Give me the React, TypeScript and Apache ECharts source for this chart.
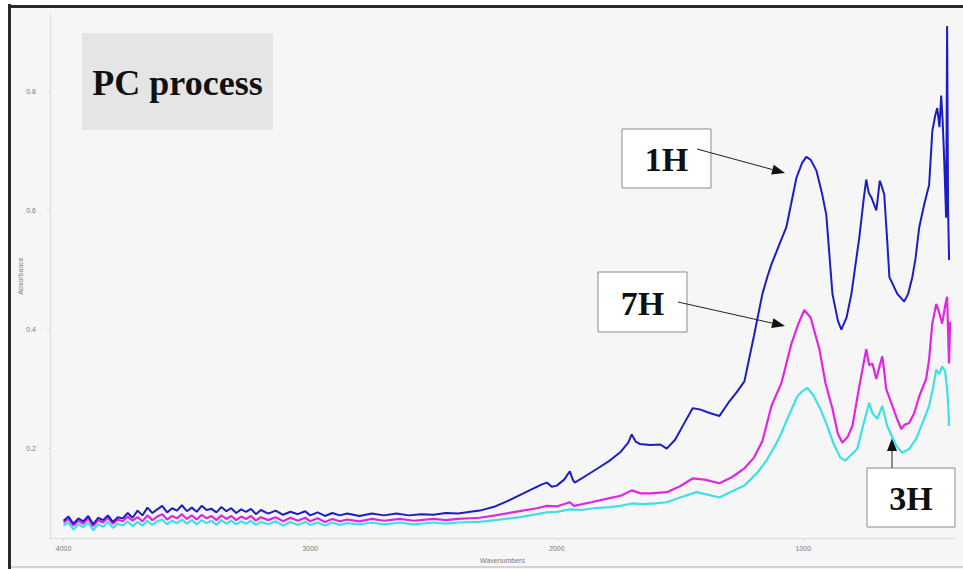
import React, { useEffect, useRef } from "react";
import * as echarts from "echarts";

const xTicks = [4000, 3000, 2000, 1000];
const yTicks = [0.2, 0.4, 0.6, 0.8];

const blue1H: [number, number][] = [
  [4000,0.079],[3980,0.086],[3960,0.074],[3940,0.083],[3920,0.078],[3900,0.087],[3880,0.073],[3860,0.084],[3840,0.08],[3820,0.088],[3800,0.077],[3780,0.085],[3760,0.083],[3740,0.092],[3720,0.084],[3700,0.096],[3680,0.088],[3660,0.101],[3640,0.092],[3620,0.098],[3600,0.104],[3580,0.093],[3560,0.1],[3540,0.096],[3520,0.105],[3500,0.095],[3480,0.101],[3460,0.094],[3440,0.104],[3420,0.097],[3400,0.099],[3380,0.093],[3360,0.102],[3340,0.095],[3320,0.1],[3300,0.092],[3280,0.098],[3260,0.094],[3240,0.099],[3220,0.09],[3200,0.097],[3170,0.091],[3140,0.096],[3110,0.089],[3080,0.094],[3050,0.09],[3020,0.095],[3000,0.088],[2970,0.093],[2940,0.087],[2910,0.092],[2880,0.088],[2850,0.091],[2800,0.087],[2750,0.091],[2700,0.088],[2650,0.091],[2600,0.088],[2550,0.09],[2500,0.089],[2450,0.092],[2400,0.091],[2350,0.094],[2312,0.096],[2250,0.103],[2200,0.112],[2150,0.122],[2100,0.132],[2060,0.14],[2040,0.143],[2020,0.136],[2000,0.138],[1970,0.148],[1947,0.162],[1935,0.148],[1927,0.143],[1880,0.155],[1830,0.168],[1785,0.18],[1740,0.195],[1710,0.21],[1696,0.224],[1680,0.212],[1664,0.208],[1620,0.206],[1580,0.207],[1554,0.2],[1520,0.215],[1480,0.245],[1449,0.268],[1420,0.266],[1380,0.26],[1340,0.255],[1299,0.28],[1270,0.295],[1239,0.313],[1200,0.39],[1166,0.46],[1145,0.49],[1129,0.51],[1100,0.54],[1069,0.572],[1050,0.61],[1028,0.655],[1005,0.68],[988,0.69],[970,0.685],[947,0.667],[925,0.63],[907,0.593],[882,0.46],[860,0.415],[846,0.4],[825,0.42],[805,0.46],[773,0.555],[755,0.62],[745,0.652],[735,0.63],[724,0.622],[704,0.6],[690,0.65],[684,0.643],[672,0.627],[660,0.55],[651,0.488],[619,0.46],[591,0.447],[575,0.46],[558,0.488],[545,0.52],[530,0.572],[510,0.61],[490,0.643],[477,0.733],[465,0.76],[457,0.772],[448,0.74],[441,0.793],[435,0.75],[429,0.688],[421,0.588],[417,0.91],[413,0.6],[409,0.517]
];

const magenta7H: [number, number][] = [
  [4000,0.076],[3980,0.082],[3960,0.071],[3940,0.079],[3920,0.074],[3900,0.083],[3880,0.07],[3860,0.08],[3840,0.076],[3820,0.084],[3800,0.074],[3780,0.081],[3760,0.078],[3740,0.086],[3720,0.079],[3700,0.085],[3680,0.078],[3660,0.088],[3640,0.08],[3620,0.086],[3600,0.09],[3580,0.081],[3560,0.087],[3540,0.083],[3520,0.09],[3500,0.082],[3480,0.088],[3460,0.081],[3440,0.089],[3420,0.083],[3400,0.087],[3380,0.08],[3360,0.088],[3340,0.082],[3320,0.087],[3300,0.08],[3280,0.086],[3260,0.082],[3240,0.087],[3220,0.079],[3200,0.085],[3170,0.08],[3140,0.085],[3110,0.078],[3080,0.084],[3050,0.079],[3020,0.084],[3000,0.078],[2970,0.083],[2940,0.077],[2910,0.082],[2880,0.078],[2850,0.081],[2800,0.078],[2750,0.082],[2700,0.079],[2636,0.082],[2580,0.079],[2500,0.082],[2450,0.08],[2400,0.082],[2312,0.084],[2250,0.088],[2150,0.095],[2080,0.1],[2040,0.104],[2000,0.103],[1947,0.11],[1930,0.104],[1860,0.11],[1785,0.117],[1740,0.121],[1696,0.13],[1660,0.125],[1620,0.125],[1554,0.127],[1500,0.137],[1449,0.15],[1400,0.148],[1340,0.142],[1290,0.152],[1239,0.167],[1200,0.185],[1166,0.213],[1129,0.272],[1089,0.31],[1048,0.377],[1020,0.41],[996,0.433],[970,0.42],[935,0.367],[910,0.31],[882,0.267],[860,0.225],[842,0.21],[820,0.22],[801,0.238],[775,0.3],[745,0.367],[733,0.34],[720,0.343],[704,0.317],[690,0.34],[680,0.355],[672,0.33],[664,0.3],[639,0.272],[620,0.25],[603,0.233],[590,0.24],[571,0.243],[550,0.26],[530,0.288],[502,0.317],[490,0.35],[477,0.41],[461,0.443],[450,0.43],[437,0.41],[425,0.44],[417,0.455],[412,0.38],[409,0.343],[405,0.413]
];

const cyan3H: [number, number][] = [
  [4000,0.071],[3980,0.076],[3960,0.064],[3940,0.073],[3920,0.068],[3900,0.076],[3880,0.063],[3860,0.073],[3840,0.069],[3820,0.077],[3800,0.067],[3780,0.074],[3760,0.071],[3740,0.078],[3720,0.07],[3700,0.077],[3680,0.071],[3660,0.079],[3640,0.072],[3620,0.078],[3600,0.081],[3580,0.073],[3560,0.079],[3540,0.075],[3520,0.081],[3500,0.074],[3480,0.08],[3460,0.073],[3440,0.08],[3420,0.075],[3400,0.079],[3380,0.072],[3360,0.08],[3340,0.074],[3320,0.079],[3300,0.073],[3280,0.078],[3260,0.074],[3240,0.079],[3220,0.072],[3200,0.077],[3170,0.073],[3140,0.078],[3110,0.071],[3080,0.077],[3050,0.072],[3020,0.077],[3000,0.072],[2970,0.076],[2940,0.071],[2910,0.076],[2880,0.072],[2850,0.075],[2800,0.073],[2750,0.076],[2700,0.073],[2636,0.076],[2580,0.073],[2500,0.076],[2450,0.074],[2400,0.076],[2312,0.077],[2250,0.08],[2150,0.085],[2080,0.09],[2040,0.093],[2000,0.094],[1947,0.098],[1900,0.097],[1850,0.1],[1785,0.102],[1740,0.104],[1696,0.108],[1650,0.107],[1600,0.108],[1554,0.11],[1500,0.118],[1433,0.127],[1380,0.122],[1340,0.118],[1290,0.128],[1239,0.138],[1186,0.16],[1150,0.18],[1121,0.2],[1090,0.225],[1065,0.25],[1024,0.288],[1000,0.298],[984,0.302],[960,0.29],[931,0.267],[905,0.24],[879,0.21],[850,0.185],[830,0.18],[810,0.188],[781,0.2],[760,0.235],[733,0.277],[720,0.26],[700,0.25],[680,0.272],[670,0.255],[660,0.238],[640,0.22],[623,0.205],[599,0.193],[570,0.2],[542,0.217],[515,0.245],[490,0.272],[475,0.3],[461,0.333],[450,0.325],[437,0.338],[425,0.33],[417,0.3],[412,0.27],[409,0.238]
];

const serif = "'Liberation Serif', 'DejaVu Serif', serif";

function labelBox(x: number, y: number, w: number, h: number, text: string, fill: string, stroke: string, size: number) {
  return {
    type: "group",
    children: [
      { type: "rect", shape: { x, y, width: w, height: h }, style: { fill, stroke, lineWidth: stroke === "none" ? 0 : 1 } },
      {
        type: "text",
        x: x + w / 2,
        y: y + h / 2 + 1,
        style: { text, fill: "#111", font: `bold ${size}px ${serif}`, align: "center", verticalAlign: "middle" },
      },
    ],
  };
}

function arrow(x1: number, y1: number, x2: number, y2: number) {
  const dx = x2 - x1, dy = y2 - y1;
  const len = Math.sqrt(dx * dx + dy * dy);
  const ux = dx / len, uy = dy / len;
  const hl = 13, hw = 5;
  const bx = x2 - hl * ux, by = y2 - hl * uy;
  const px = -uy, py = ux;
  return {
    type: "group",
    children: [
      { type: "line", shape: { x1, y1, x2: bx, y2: by }, style: { stroke: "#222", lineWidth: 1 } },
      {
        type: "polygon",
        shape: { points: [[x2, y2], [bx + hw * px, by + hw * py], [bx - hw * px, by - hw * py]] },
        style: { fill: "#111" },
      },
    ],
  };
}

export default function App() {
  const ref = useRef<HTMLDivElement>(null);
  useEffect(() => {
    if (!ref.current) return;
    const chart = echarts.init(ref.current, null, { renderer: "svg" });
    const axisText = { color: "#7a7a7a", fontSize: 7, fontFamily: "Arial, sans-serif" };
    chart.setOption({
      animation: false,
      backgroundColor: "#f6f6f6",
      grid: { left: 50, right: 8, top: 14, bottom: 26 },
      xAxis: {
        type: "value",
        inverse: true,
        min: 385,
        max: 4055,
        name: "Wavenumbers",
        nameLocation: "middle",
        nameGap: 19,
        nameMoveOverlap: false,
        nameTextStyle: { ...axisText },
        axisLine: { show: true, lineStyle: { color: "#dcdcdc" } },
        axisTick: { show: true, customValues: xTicks, length: 3, lineStyle: { color: "#ddd" } },
        axisLabel: { customValues: xTicks, margin: 7, formatter: (v: number) => String(Math.round(v)), ...axisText },
        splitLine: { show: false },
      },
      yAxis: {
        type: "value",
        min: 0.05,
        max: 0.93,
        name: "Absorbance",
        nameLocation: "middle",
        nameGap: 26,
        nameMoveOverlap: false,
        nameTextStyle: { ...axisText },
        axisLine: { show: true, lineStyle: { color: "#dcdcdc" } },
        axisTick: { show: true, customValues: yTicks, length: 3, lineStyle: { color: "#ddd" } },
        axisLabel: { customValues: yTicks, margin: 14, formatter: (v: number) => v.toFixed(1), ...axisText },
        splitLine: { show: false },
      },
      series: [
        { name: "3H", type: "line", data: cyan3H, showSymbol: false, lineStyle: { color: "#3ee0e6", width: 2.2 }, z: 2 },
        { name: "7H", type: "line", data: magenta7H, showSymbol: false, lineStyle: { color: "#e026e0", width: 2.2 }, z: 3 },
        { name: "1H", type: "line", data: blue1H, showSymbol: false, lineStyle: { color: "#1d1dc4", width: 2 }, z: 4 },
      ],
      graphic: [
        { type: "rect", shape: { x: 0, y: 0, width: 9, height: 569 }, style: { fill: "#ffffff" }, z: 10 },
        { type: "rect", shape: { x: 8, y: 4, width: 3, height: 565 }, style: { fill: "#2a2a2a" }, z: 11 },
        { type: "rect", shape: { x: 8, y: 0, width: 955, height: 5 }, style: { fill: "#ffffff" }, z: 10 },
        { type: "rect", shape: { x: 8, y: 5, width: 955, height: 3 }, style: { fill: "#2a2a2a" }, z: 11 },
        { type: "line", shape: { x1: 11, y1: 567, x2: 963, y2: 567 }, style: { stroke: "#b0b0b0", lineWidth: 1 }, z: 11 },
        labelBox(82, 33, 191, 97, "PC process", "#e5e5e5", "none", 36),
        labelBox(622, 129, 89, 59, "1H", "#ffffff", "#8a8a8a", 34),
        labelBox(598, 272, 89, 60, "7H", "#ffffff", "#8a8a8a", 34),
        labelBox(867, 468, 88, 59, "3H", "#ffffff", "#8a8a8a", 34),
        arrow(697, 149, 785, 173),
        arrow(678, 302, 785, 326),
        arrow(892, 468, 892, 438),
      ],
    });
    return () => chart.dispose();
  }, []);
  return (
    <div
      ref={ref}
      style={{ position: "fixed", left: 0, top: 0, width: 963, height: 569, background: "#ffffff" }}
    />
  );
}
